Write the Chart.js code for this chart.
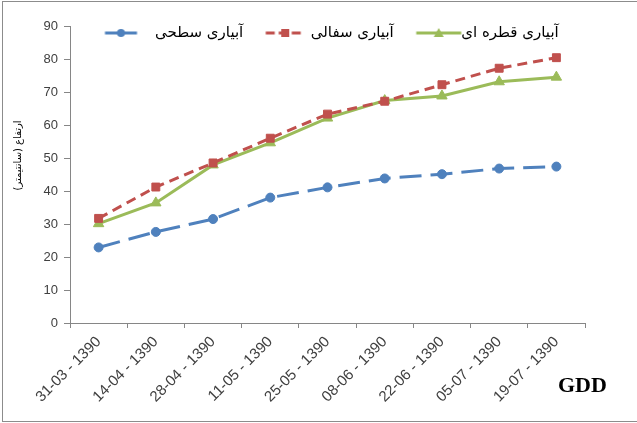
<!DOCTYPE html>
<html>
<head>
<meta charset="utf-8">
<script src="https://cdn.jsdelivr.net/npm/chart.js@4.4.0/dist/chart.umd.min.js"></script>
<style>
  html, body { margin: 0; padding: 0; background: #fff; }
  #wrap { position: relative; width: 637px; height: 423px; }
  #frame { position: absolute; left: 2px; top: 1px; right: 0; bottom: 1px;
           border: 1px solid #8c8c8c; border-right: none; pointer-events: none; }
</style>
</head>
<body>
<div id="wrap">
  <canvas id="growth" width="637" height="423"></canvas>
  <div id="frame"></div>
</div>
<script>
// data
const dates = ['31-03 - 1390', '14-04 - 1390', '28-04 - 1390', '11-05 - 1390', '25-05 - 1390',
               '08-06 - 1390', '22-06 - 1390', '05-07 - 1390', '19-07 - 1390'];
const surface = [22.9, 27.6, 31.5, 38.0, 41.1, 43.8, 45.1, 46.8, 47.4];
const clay    = [31.7, 41.2, 48.5, 56.0, 63.3, 67.2, 72.2, 77.2, 80.4];
const drip    = [30.1, 36.4, 47.9, 54.6, 62.1, 67.4, 68.8, 73.1, 74.5];
const seriesNames = ['آبیاری سطحی', 'آبیاری سفالی', 'آبیاری قطره ای'];
const yTitle = 'ارتفاع (سانتیمتر)';
const xTitle = 'GDD';
const yMax = 90, yStep = 10;

const BLUE = '#4f81bd', RED = '#c0504d', GREEN = '#9bbb59';
const BOX_W = 50, LEG_PAD = 10;

// legend sample drawn in a 70px canvas centred on the 50px legend box
// (line start/end are in canvas px, text begins at canvas x 67.5)
function legendIcon(color, dash, shape, x0, x1) {
  const c = document.createElement('canvas');
  c.width = 70; c.height = 14;
  const g = c.getContext('2d');
  g.strokeStyle = color; g.fillStyle = color; g.lineWidth = 3;
  g.setLineDash(dash);
  g.beginPath(); g.moveTo(x0, 7); g.lineTo(x1, 7); g.stroke();
  g.setLineDash([]);
  const m = (x0 + x1) / 2;
  g.beginPath();
  if (shape === 'circle') g.arc(m, 7, 4, 0, Math.PI * 2);
  else if (shape === 'rect') g.rect(m - 4, 3, 8, 8);
  else { g.moveTo(m, 2); g.lineTo(m + 5, 11); g.lineTo(m - 5, 11); g.closePath(); }
  g.fill();
  return c;
}

// legend overlaps the plot like in excel: it takes no layout room, then is moved over the plot
const legendOverlay = {
  id: 'legendOverlay',
  afterLayout(chart) {
    const lg = chart.legend, ca = chart.chartArea;
    if (!lg) return;
    lg.left = ca.left + 17.5;
    lg.right = chart.width;
    lg.top = ca.top - 10.5;
    lg.height = 40;
    lg.bottom = lg.top + 40;
  }
};

const gddLabel = {
  id: 'gddLabel',
  afterDraw(chart) {
    const { ctx, chartArea } = chart;
    ctx.save();
    ctx.font = 'bold 22px "Liberation Serif"';
    ctx.fillStyle = '#000';
    ctx.textAlign = 'left';
    ctx.textBaseline = 'middle';
    ctx.fillText(xTitle, chartArea.right - 27, chartArea.bottom + 63);
    ctx.restore();
  }
};

const icons = [
  legendIcon(BLUE, [], 'circle', 17.5, 49.5),
  legendIcon(RED, [9, 4], 'rect', 22.5, 61.5),
  legendIcon(GREEN, [], 'triangle', 22.5, 67.5)
];

new Chart(document.getElementById('growth'), {
  type: 'line',
  data: {
    labels: dates,
    datasets: [
      { label: seriesNames[0], data: surface, borderColor: BLUE, backgroundColor: BLUE,
        borderWidth: 3, borderDash: [22, 9], pointStyle: 'circle', pointRadius: 4.5,
        pointBorderWidth: 1, tension: 0 },
      { label: seriesNames[1], data: clay, borderColor: RED, backgroundColor: RED,
        borderWidth: 3, borderDash: [10, 6], pointStyle: 'rect', pointRadius: 5.6,
        pointBorderWidth: 1, tension: 0 },
      { label: seriesNames[2], data: drip, borderColor: GREEN, backgroundColor: GREEN,
        borderWidth: 3, pointStyle: 'triangle', pointRadius: 6,
        pointBorderWidth: 1, tension: 0 }
    ]
  },
  options: {
    responsive: false,
    animation: false,
    devicePixelRatio: 1,
    layout: { padding: { left: 4, right: 52, top: 25, bottom: 0 } },
    plugins: {
      legend: {
        position: 'top',
        align: 'start',
        maxHeight: 1,
        labels: {
          usePointStyle: true,
          pointStyleWidth: BOX_W,
          padding: LEG_PAD,
          color: '#000',
          font: { family: '"DejaVu Sans"', size: 15 },
          generateLabels: (chart) => chart.data.datasets.map((ds, i) => ({
            text: ds.label, pointStyle: icons[i], fillStyle: ds.borderColor,
            strokeStyle: 'transparent', lineWidth: 0, hidden: false, datasetIndex: i
          }))
        }
      },
      tooltip: { enabled: false }
    },
    scales: {
      x: {
        offset: true,
        afterFit: (s) => { s.height = 100; },
        grid: { drawOnChartArea: false, offset: true, tickLength: 5, color: '#868686' },
        border: { color: '#868686' },
        ticks: { minRotation: 45, maxRotation: 45, autoSkip: false, padding: 5,
                 color: '#404040', font: { family: '"Liberation Sans"', size: 15 } }
      },
      y: {
        min: 0, max: yMax,
        afterFit: (s) => { s.width = 66; },
        grid: { drawOnChartArea: false, tickLength: 6, color: '#868686' },
        border: { color: '#868686' },
        ticks: { stepSize: yStep, padding: 6, color: '#404040',
                 font: { family: '"Liberation Sans"', size: 13 } },
        // leading no-break spaces nudge the title up a little, as it sits above centre in the original
        title: { display: true, text: '\u00a0'.repeat(12) + yTitle, color: '#000',
                 padding: { top: 8, bottom: 0 },
                 font: { family: '"DejaVu Sans"', size: 10 } }
      }
    }
  },
  plugins: [legendOverlay, gddLabel]
});
</script>
</body>
</html>
